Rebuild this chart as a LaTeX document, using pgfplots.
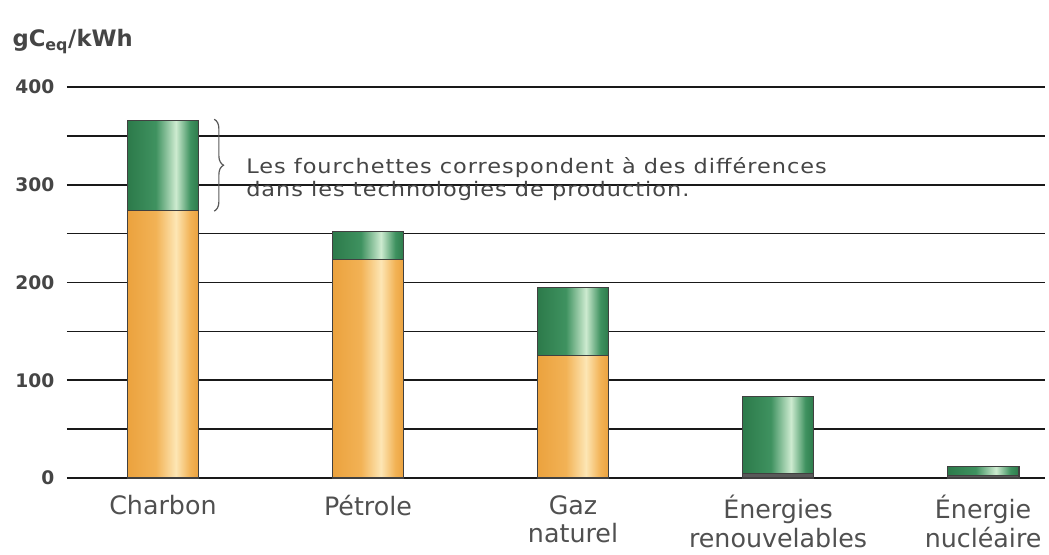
\documentclass[border=0pt]{standalone}
\usepackage{pgfplots}
\pgfplotsset{compat=1.18}
\usepackage{fontspec}
\setmainfont{DejaVu Sans}
\usetikzlibrary{decorations.pathreplacing}

\definecolor{txt}{HTML}{505050}
\definecolor{tick}{HTML}{454545}
\definecolor{orA}{HTML}{EBA23E}
\definecolor{orM}{HTML}{F2B255}
\definecolor{orB}{HTML}{FDE6B4}
\definecolor{grA}{HTML}{2C7A4A}
\definecolor{grM}{HTML}{3F9260}
\definecolor{grB}{HTML}{CDEBD0}

% tikz fits the 25bp..75bp part of a shading to the path
\pgfdeclarehorizontalshading{orshade}{100bp}{color(0bp)=(orA); color(25bp)=(orA); color(45bp)=(orM); color(59bp)=(orB); color(69bp)=(orM); color(75bp)=(orA); color(100bp)=(orA)}
\pgfdeclarehorizontalshading{grshade}{100bp}{color(0bp)=(grA); color(25bp)=(grA); color(45bp)=(grM); color(59bp)=(grB); color(69bp)=(grM); color(75bp)=(grA); color(100bp)=(grA)}

% one \addplot per bar so that each bar gets its own shading
\pgfplotsset{
  orbar/.style={ybar, bar shift=0pt, draw=black!75, line width=0.8pt, shade, shading=orshade},
  grbar/.style={ybar, bar shift=0pt, draw=black!75, line width=0.8pt, shade, shading=grshade},
}

\begin{document}
\begin{tikzpicture}
\begin{axis}[
  scale only axis,
  width=733.5pt, height=293.25pt,
  ymin=0, ymax=400,
  xmin=-0.468, xmax=4.302,
  bar width=0.35,
  axis x line*=bottom, axis y line*=left,
  axis line style={draw=none},
  ytick={0,100,200,300,400},
  extra y ticks={50,150,250,350},
  extra y tick labels={},
  ymajorgrids,
  extra y tick style={ymajorgrids},
  grid style={black!90, line width=1.2pt},
  major tick length=0pt,
  xtick={0,1,2,3,4},
  xticklabels={Charbon, Pétrole, Gaz\\naturel, Énergies\\renouvelables, Énergie\\nucléaire},
  xticklabel style={align=center, font=\fontsize{19}{21.5}\selectfont, text=txt, yshift=-9.5pt},
  yticklabel style={font=\fontsize{14}{16}\selectfont\bfseries, text=tick, xshift=-6pt},
  /pgf/number format/assume math mode=true,
  clip=false,
]
% upper end of the range (green), then lower end (orange) drawn over it
\addplot[grbar] coordinates {(0,366)};
\addplot[grbar] coordinates {(1,252)};
\addplot[grbar] coordinates {(2,195)};
\addplot[grbar] coordinates {(3,83)};
\addplot[grbar] coordinates {(4,12)};
\addplot[orbar] coordinates {(0,274)};
\addplot[orbar] coordinates {(1,224)};
\addplot[orbar] coordinates {(2,125)};
\addplot[ybar, bar shift=0pt, draw=black!75, fill=black!65, line width=0.8pt] coordinates {(3,5) (4,3)};
\draw[decorate, decoration={brace, amplitude=7pt}, line width=0.9pt, black!65]
  (axis cs:0.25,367) -- (axis cs:0.25,273);
\node[anchor=west, align=left, text=tick, inner sep=0pt,
  font=\fontsize{15}{17.25}\selectfont\addfontfeatures{FakeStretch=1.12,LetterSpace=5}]
  at (axis cs:0.405,306) {Les fourchettes correspondent à des différences\\dans les technologies de production.};
\node[anchor=base west, inner sep=0pt, text=tick, font=\fontsize{17}{18}\selectfont\bfseries]
  at ([shift={(-41pt,30pt)}]rel axis cs:0,1) {gC\textsubscript{eq}/kWh};
\coordinate (O) at (rel axis cs:0,0);
\end{axis}
\pgfresetboundingbox
\path ([shift={(-50.25pt,-57pt)}]O) rectangle ++(786.75pt,415.5pt);
\end{tikzpicture}
\end{document}
